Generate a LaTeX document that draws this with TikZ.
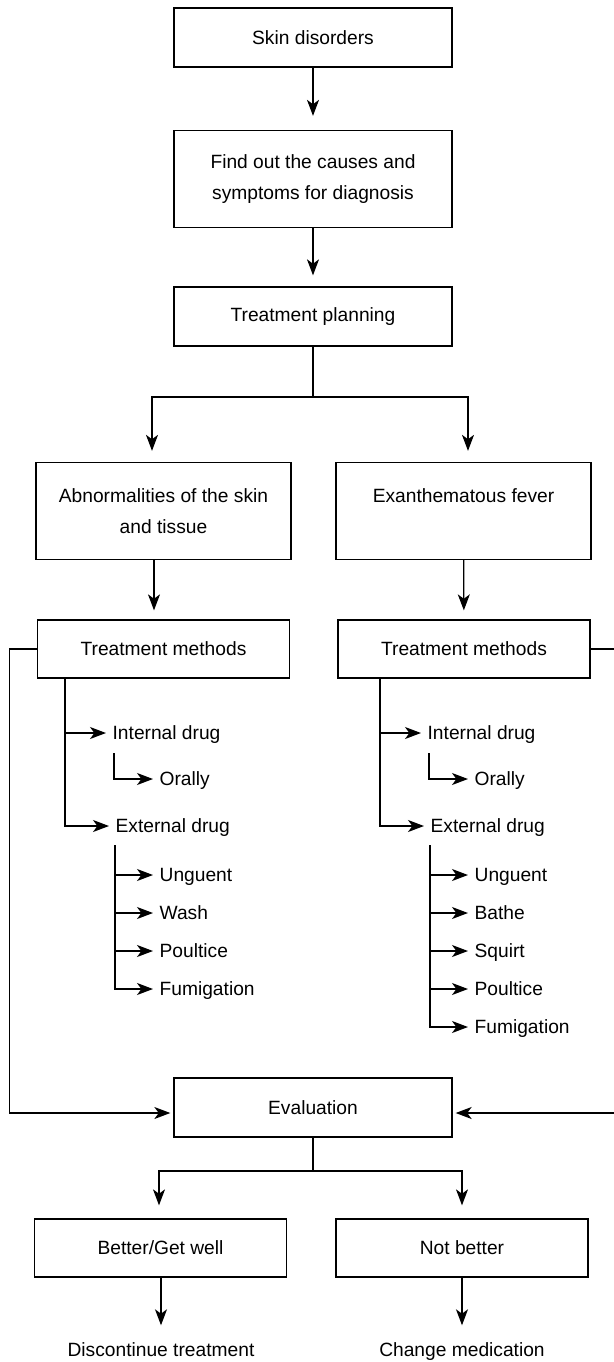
\documentclass[tikz,border=0pt]{standalone}
\usepackage{fontspec}
\setmainfont{Liberation Sans}
\usetikzlibrary{arrows.meta}

\begin{document}
\begin{tikzpicture}[x=0.5pt, y=-0.5pt, line width=0.65pt,
		font=\fontsize{9.6}{15.5}\selectfont,
		box/.style={draw, align=center, inner sep=0pt},
		arr/.style={-{Stealth[length=8pt, width=6pt, inset=2.2pt]}},
		plain/.style={text height=6.9pt, text depth=0pt},
		leaf/.style={plain, anchor=west, inner xsep=3pt, inner ysep=0pt}]
		% ==================================================
		% 1. 参数设置 (单位: 像素, y 向下)
		% ==================================================
		\def\wMain{139pt}   % 中间主框宽
		\def\wSide{126pt}   % 两侧框宽
		\def\hOne{29.5pt}   % 单行框高
		\def\hTwo{48.5pt}   % 两行框高
		\def\dx{315}        % 左右两棵树的水平间距
		% ==================================================

		% 画布范围
		\useasboundingbox (0,0) rectangle (614,1362);
		\clip (0,0) rectangle (614,1362);

		% 2. 主流程框
		\node[box, minimum width=\wMain, minimum height=\hOne] (skin) at (313,37.5) {Skin disorders};
		\node[box, minimum width=\wMain, minimum height=\hTwo] (find) at (313,179) {Find out the causes and\\symptoms for diagnosis};
		\node[box, minimum width=\wMain, minimum height=\hOne] (plan) at (313,316.5) {Treatment planning};

		\draw[arr, shorten >=7pt] (skin) -- (find);
		\draw[arr, shorten >=5.5pt] (find) -- (plan);

		% 3. 两类疾病
		\node[box, minimum width=127.5pt, minimum height=\hTwo] (abn) at (163.5,511) {Abnormalities of the skin\\and tissue};
		\node[box, minimum width=127.5pt, minimum height=\hTwo] (exa) at (463.5,511) {Exanthematous fever\\~};

		\coordinate (s1) at (313,397);
		\coordinate (xA) at (152,0);
		\coordinate (xB) at (468,0);
		\draw (plan) -- (s1);
		\draw[arr, shorten >=5.5pt] (s1) -| (abn.north -| xA);
		\draw[arr, shorten >=5.5pt] (s1) -| (exa.north -| xB);

		% 4. 治疗方法
		\node[box, minimum width=\wSide, minimum height=29pt] (tmL) at (163.5,649) {Treatment methods};
		\node[box, minimum width=\wSide, minimum height=29pt] (tmR) at (464,649) {Treatment methods};

		\coordinate (xC) at (154,0);
		\draw[arr, shorten >=4.5pt] (abn.south -| xC) -- (tmL.north -| xC);
		\draw[arr, shorten >=4.5pt] (exa) -- (tmR);

		% 5. 内服 / 外用 (左右两侧相同部分, 循环)
		\foreach \s/\ox in {L/0, R/\dx} {
			\coordinate (tr\s) at (65+\ox,678);
			\node[leaf] (int\s) at (106+\ox,733) {Internal drug};
			\node[leaf] (ora\s) at (153+\ox,779) {Orally};
			\node[leaf] (ext\s) at (109+\ox,826) {External drug};
			\draw[arr] (tr\s) |- (int\s.west);
			\draw[arr] (tr\s) |- (ext\s.west);
			% Orally 分支
			\coordinate (ot\s) at (114+\ox,753);
			\draw[arr] (ot\s) |- (ora\s.west);
			% 外用分支起点
			\coordinate (st\s) at (115+\ox,845);
		}

		% 6. 外用方法列表
		\foreach \t [count=\i] in {Unguent, Wash, Poultice, Fumigation} {
			\pgfmathsetmacro{\yy}{875+38*(\i-1)}
			\node[leaf] (itL-\i) at (153,\yy) {\t};
			\draw[arr] (stL) |- (itL-\i.west);
		}
		\foreach \t [count=\i] in {Unguent, Bathe, Squirt, Poultice, Fumigation} {
			\pgfmathsetmacro{\yy}{875+38*(\i-1)}
			\node[leaf] (itR-\i) at (153+\dx,\yy) {\t};
			\draw[arr] (stR) |- (itR-\i.west);
		}

		% 7. 评估
		\node[box, minimum width=\wMain, minimum height=\hOne] (eval) at (313,1107.5) {Evaluation};

		\coordinate (fbL) at (9.5,0);
		\coordinate (fbR) at (616,0);
		\draw[arr, shorten >=1.5pt] (tmL.west) -- (tmL.west -| fbL) |- ([yshift=-2.75pt]eval.west);
		\draw[arr, shorten >=1.5pt] (tmR.east) -- (tmR.east -| fbR) |- ([yshift=-2.75pt]eval.east);

		% 8. 结果
		\node[box, minimum width=\wSide, minimum height=29pt] (bet) at (160.5,1248) {Better/Get well};
		\node[box, minimum width=\wSide, minimum height=29pt] (nob) at (462,1248) {Not better};

		\coordinate (s2) at (313,1171);
		\coordinate (xD) at (159,0);
		\draw (eval) -- (s2);
		\draw[arr, shorten >=6.5pt] (s2) -| (bet.north -| xD);
		\draw[arr, shorten >=6.5pt] (s2) -| (nob.north);

		\node[plain] (disc) at (161,1349.5) {Discontinue treatment};
		\node[plain] (chg) at (462,1349.5) {Change medication};

		\coordinate (xE) at (161,0);
		\draw[arr, shorten >=5pt] (bet.south -| xE) -- (disc);
		\draw[arr, shorten >=5pt] (nob) -- (chg);

	\end{tikzpicture}
\end{document}
